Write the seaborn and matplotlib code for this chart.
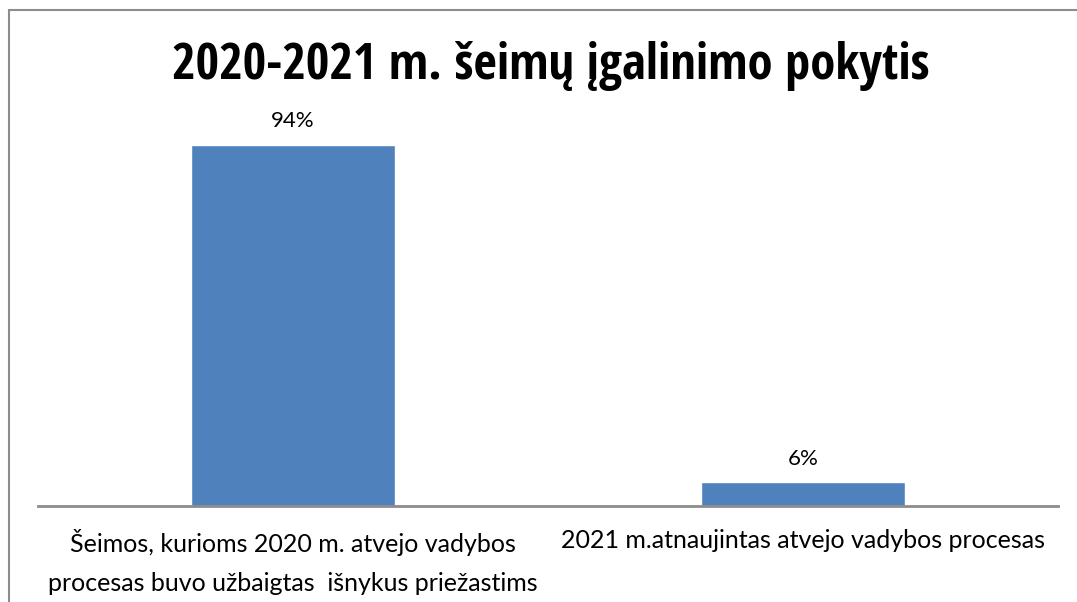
import matplotlib
matplotlib.use("Agg")
import matplotlib.pyplot as plt
import seaborn as sns
import pandas as pd
from matplotlib.lines import Line2D
from matplotlib import font_manager

categories = ["Šeimos, kurioms 2020 m. atvejo vadybos\nprocesas buvo užbaigtas  išnykus priežastims",
              "2021 m.atnaujintas atvejo vadybos procesas"]
values = [94, 6]
value_labels = ["94%", "6%"]
title = "2020-2021 m. šeimų įgalinimo pokytis"

sns.set_theme(style="white")
names = {f.name for f in font_manager.fontManager.ttflist}
cands = ["Liberation Sans Narrow", "DejaVu Sans Condensed", "Open Sans Condensed", "Roboto Condensed"]
chosen = [c for c in cands if c in names]
title_fam = chosen[:1] + ["DejaVu Sans"]
reg_cands = ["Liberation Sans Narrow", "Lato", "Open Sans"]
reg_fam = [c for c in reg_cands if c in names][:1] + ["DejaVu Sans"]
plt.rcParams["font.family"] = reg_fam
plt.rcParams["text.color"] = "black"
plt.rcParams["xtick.color"] = "black"

W, H = 1077, 602
fig = plt.figure(figsize=(W / 100, H / 100), dpi=100)
ax = fig.add_axes([38 / W, (H - 505.5) / H, (1058 - 38) / W, (505.5 - 122) / H])

df = pd.DataFrame({"cat": categories, "val": values})
sns.barplot(data=df, x="cat", y="val", color="#4F81BD", saturation=1, width=0.4, ax=ax)
ax.set_xlim(-0.5, 1.5)
ax.set_ylim(0, 100)
ax.set_xlabel("")
ax.set_ylabel("")
ax.set_yticks([])
for s in ["top", "right", "left"]:
    ax.spines[s].set_visible(False)
ax.spines["bottom"].set_color("#8c8c8c")
ax.spines["bottom"].set_linewidth(2)
ax.tick_params(axis="x", length=0, pad=17, labelsize=18, labelcolor="black")
for lbl in ax.get_xticklabels():
    lbl.set_linespacing(1.85)
    lbl.set_verticalalignment("top")
    lbl.set_family(reg_fam)

for i, (v, t) in enumerate(zip(values, value_labels)):
    ax.annotate(t, (i, v), xytext=(0, 10), textcoords="offset points",
                ha="center", va="bottom", fontsize=16, family=reg_fam, color="black")

fig.text(551 / W, 1 - 66 / H, title, ha="center", va="center",
         fontsize=36.5, fontweight="bold", family=title_fam, color="black")

fig.add_artist(Line2D([9 / W, 9 / W], [0, 1 - 10 / H], transform=fig.transFigure,
                      color="#8c8c8c", lw=1.5))
fig.add_artist(Line2D([9 / W, 1], [1 - 10 / H, 1 - 10 / H], transform=fig.transFigure,
                      color="#8c8c8c", lw=1.5))

fig.savefig("out.png", dpi=100)
